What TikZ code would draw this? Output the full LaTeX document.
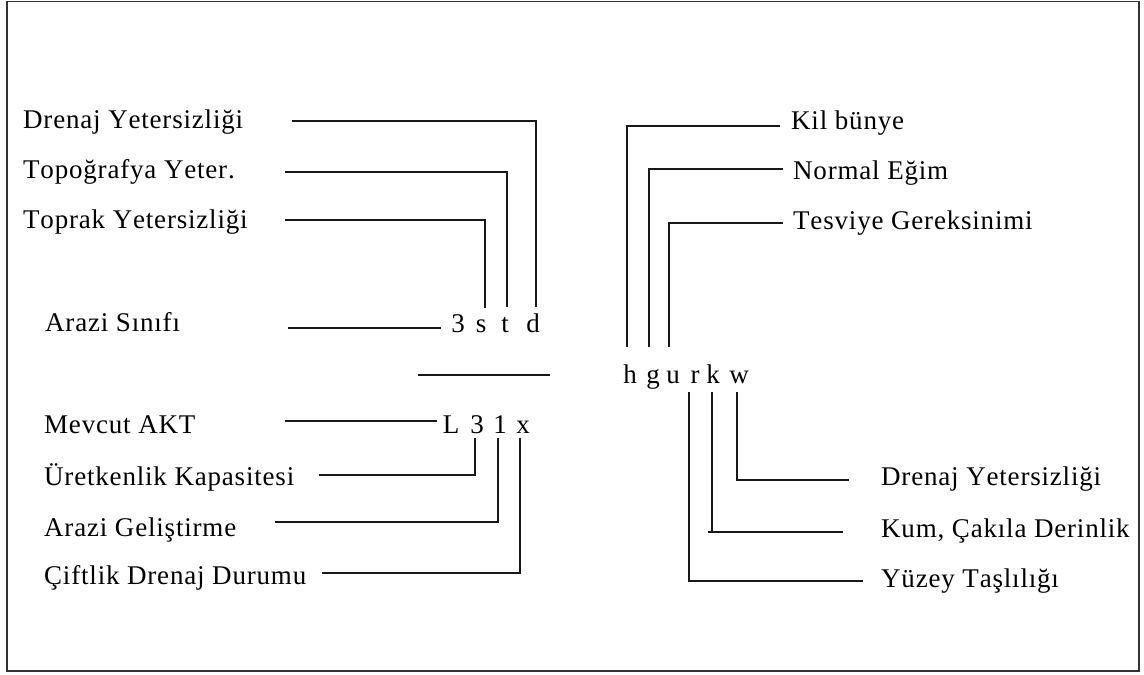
\documentclass[tikz,border=0pt]{standalone}
\usepackage{fontspec}
\setmainfont{Liberation Serif}[Kerning=Off,LetterSpace=3]
\newcommand\lblfont{\fontsize{27}{32}\selectfont}
\begin{document}
\begin{tikzpicture}[x=1pt,y=-1pt,
  lbl/.style={anchor=base west,inner sep=0pt,font=\lblfont},
  chr/.style={anchor=base,inner sep=0pt,font=\lblfont},
  conn/.style={line width=1.4pt,black!90,line join=miter},
  frame/.style={line width=1.6pt,black!80}]
\useasboundingbox (0,0) rectangle (1144,675);
\draw[frame] (7,1.5) rectangle (1139,671);

% left labels
\node[lbl] (l1) at (23,128) {Drenaj Yetersizliği};
\node[lbl] (l2) at (23,178) {Topoğrafya Yeter.};
\node[lbl] (l3) at (23,228) {Toprak Yetersizliği};
\node[lbl] (l4) at (45,331) {Arazi Sınıfı};
\node[lbl] (l5) at (44,433) {Mevcut AKT};
\node[lbl] (l6) at (44,485) {Üretkenlik Kapasitesi};
\node[lbl] (l7) at (44,536) {Arazi Geliştirme};
\node[lbl] (l8) at (44,584) {Çiftlik Drenaj Durumu};
% right labels
\node[lbl] (r1) at (791,129) {Kil bünye};
\node[lbl] (r2) at (793,179) {Normal Eğim};
\node[lbl] (r3) at (793,229) {Tesviye Gereksinimi};
\node[lbl] (r4) at (881,485) {Drenaj Yetersizliği};
\node[lbl] (r5) at (881,537) {Kum, Çakıla Derinlik};
\node[lbl] (r6) at (881,587) {Yüzey Taşlılığı};

% symbol letters
\node[chr] (c3) at (458,332) {3};
\node[chr] (cs) at (481,332) {s};
\node[chr] (ct) at (505,332) {t};
\node[chr] (cd) at (533,332) {d};
\node[chr] (cL) at (451,433) {L};
\node[chr] (c3b) at (477,433) {3};
\node[chr] (c1) at (500,433) {1};
\node[chr] (cx) at (523,433) {x};
\node[chr] (ch) at (630,383) {h};
\node[chr] (cg) at (653,383) {g};
\node[chr] (cu) at (673,383) {u};
\node[chr] (cr) at (695,383) {r};
\node[chr] (ck) at (713,383) {k};
\node[chr] (cw) at (739,383) {w};

% free line ends
\coordinate (a1) at (292,121);
\coordinate (a2) at (285,172);
\coordinate (a3) at (285,220);
\coordinate (a4) at (288,328);
\coordinate (f1) at (418,375);
\coordinate (f2) at (550,375);
\coordinate (a5) at (285,421);
\coordinate (a6) at (319,475);
\coordinate (a7) at (275,522);
\coordinate (a8) at (322,573);
\coordinate (b1) at (780,126);
\coordinate (b2) at (783,169);
\coordinate (b3) at (783,223);
\coordinate (b4) at (849,480);
\coordinate (b5) at (843,532);
\coordinate (b5s) at (708,532);
\coordinate (b6) at (863,581);
\coordinate (kb) at ([shift={(-1,9)}]ck.base);

% connectors
\draw[conn] (a1) -| ([shift={(3,-25)}]cd.base);
\draw[conn] (a2) -| ([shift={(2,-25)}]ct.base);
\draw[conn] (a3) -| ([shift={(4,-24)}]cs.base);
\draw[conn] (a4) -- ([shift={(-17,-4)}]c3.base);
\draw[conn] (f1) -- (f2);
\draw[conn] (a5) -- ([shift={(-14,-12)}]cL.base);
\draw[conn] (a6) -| ([shift={(-2,5)}]c3b.base);
\draw[conn] (a7) -| ([shift={(-2,5)}]c1.base);
\draw[conn] (a8) -| ([shift={(-3,5)}]cx.base);
\draw[conn] (b1) -| ([shift={(-3,-36)}]ch.base);
\draw[conn] (b2) -| ([shift={(-4,-36)}]cg.base);
\draw[conn] (b3) -| ([shift={(-4,-36)}]cu.base);
\draw[conn] (b4) -| ([shift={(-2,9)}]cw.base);
\draw[conn] (kb) -- (kb |- b5);
\draw[conn] (b5) -- (b5s);
\draw[conn] (b6) -| ([shift={(-6,9)}]cr.base);
\end{tikzpicture}
\end{document}
